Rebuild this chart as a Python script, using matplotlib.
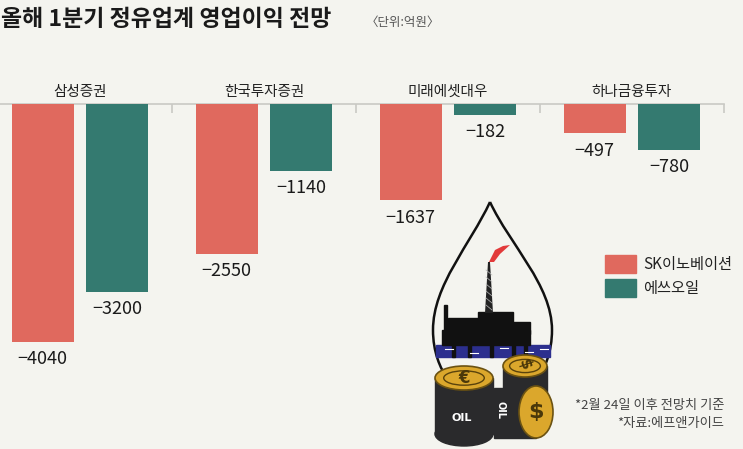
import numpy as np
import matplotlib
matplotlib.use("Agg")
import matplotlib.pyplot as plt
from matplotlib.patches import Rectangle, Ellipse, PathPatch, Polygon
from matplotlib.path import Path

plt.rcParams['font.family'] = ['Noto Sans CJK KR', 'DejaVu Sans']

# 데이터 (단위: 억원)
brokers = ["삼성증권", "한국투자증권", "미래에셋대우", "하나금융투자"]
sk_innovation = [-4040, -2550, -1637, -497]
s_oil = [-3200, -1140, -182, -780]
series_names = ["SK이노베이션", "에쓰오일"]

title = "올해 1분기 정유업계 영업이익 전망"
unit = "〈단위:억원〉"
notes = ["*2월 24일 이후 전망치 기준", "*자료:에프앤가이드"]

RED = "#e0695e"
GREEN = "#347a70"
BG = "#f4f4ef"
W, H = 743, 449
PX_PER_UNIT = 0.0588   # 세로 스케일 (픽셀 / 억원)
BASE_Y = 104           # 기준선 위치 (위에서부터 픽셀)

fig = plt.figure(figsize=(W / 100, H / 100), dpi=100, facecolor=BG)

# 막대 영역
axh = (H - BASE_Y) / H
ax = fig.add_axes([-12 / W, 0, 736 / W, axh])
ax.set_facecolor(BG)
ax.patch.set_alpha(0)
ax.set_xlim(0, 4)
ax.set_ylim(-(H - BASE_Y) / PX_PER_UNIT, 0)
ax.axis("off")

x = np.arange(len(brokers)) + 0.5
bw = 0.337
off = 0.203
b1 = ax.bar(x - off, sk_innovation, bw, color=RED, align="center", zorder=2)
b2 = ax.bar(x + off, s_oil, bw, color=GREEN, align="center", zorder=2)

ax.axhline(0, color="#c9c9c4", lw=1.2, zorder=1, clip_on=False)
ax.vlines([1, 2, 3, 4], -150, 0, color="#c9c9c4", lw=1.2, clip_on=False)

for xi, name in zip(x, brokers):
    ax.annotate(name, (xi, 0), xytext=(0, 9), textcoords="offset points",
                ha="center", va="center", fontsize=10.5, color="#222222",
                fontweight="medium", annotation_clip=False)

for bars in (b1, b2):
    for r in bars:
        v = r.get_height()
        ax.annotate("\u2212%d" % abs(v), (r.get_x() + r.get_width() / 2, v),
                    xytext=(0, -6), textcoords="offset points",
                    ha="center", va="top", fontsize=13, color="#1a1a1a",
                    fontweight="medium", annotation_clip=False)

# 제목 / 단위 / 범례 / 주석 (픽셀 좌표 오버레이)
ov = fig.add_axes([0, 0, 1, 1])
ov.set_xlim(0, W)
ov.set_ylim(H, 0)
ov.axis("off")
ov.patch.set_alpha(0)

ov.text(1, 19, title, fontsize=16.5, fontweight="bold", color="#1a1a1a",
        ha="left", va="center")
ov.text(366, 22, unit, fontsize=9, color="#555555", ha="left", va="center")

for i, (name, c) in enumerate(zip(series_names, [RED, GREEN])):
    y0 = 255 + i * 24
    ov.add_patch(Rectangle((605, y0), 31, 18, color=c))
    ov.text(643, y0 + 9, name, fontsize=11, color="#222222", ha="left",
            va="center", fontweight="medium")

ov.text(724, 405, notes[0], fontsize=9.5, color="#444444", ha="right",
        va="center")
ov.text(724, 424, notes[1], fontsize=9.5, color="#444444", ha="right",
        va="center")

# 기름방울 일러스트 (장식)
drop = Path([(490, 202), (470, 245), (433, 285), (433, 330),
             (433, 352), (440, 368), (448, 380)],
            [Path.MOVETO, Path.CURVE4, Path.CURVE4, Path.CURVE4,
             Path.CURVE4, Path.CURVE4, Path.CURVE4])
drop_r = Path([(490, 202), (510, 245), (552, 285), (552, 330),
               (552, 352), (545, 368), (537, 380)],
              [Path.MOVETO, Path.CURVE4, Path.CURVE4, Path.CURVE4,
               Path.CURVE4, Path.CURVE4, Path.CURVE4])
for p in (drop, drop_r):
    ov.add_patch(PathPatch(p, fill=False, ec="#111111", lw=1.8))

# 바다
ov.add_patch(Rectangle((436, 345), 114, 12, color="#2c2f8e"))
for xs, ys in [(445, 349), (470, 353), (500, 348), (525, 352), (540, 349)]:
    ov.plot([xs, xs + 8], [ys, ys], color="white", lw=0.8)

# 플랫폼 실루엣
ov.add_patch(Rectangle((442, 330), 88, 15, color="#111111"))
ov.add_patch(Rectangle((448, 318), 40, 14, color="#111111"))
ov.add_patch(Rectangle((478, 312), 35, 20, color="#111111"))
ov.add_patch(Rectangle((505, 322), 25, 12, color="#111111"))
ov.add_patch(Rectangle((444, 305), 3, 25, color="#111111"))
for lx in (452, 468, 490, 512, 524):
    ov.add_patch(Rectangle((lx, 345), 2.5, 12, color="#111111"))
ov.add_patch(Polygon([(485, 313), (493, 313), (490, 262), (488, 262)],
                     closed=True, fc="#222222"))
for yy in range(270, 312, 7):
    ov.plot([486, 492], [yy, yy + 5], color="#bbbbbb", lw=0.5)
ov.add_patch(Polygon([(489, 262), (495, 250), (503, 246), (510, 245),
                      (500, 254), (494, 262)], closed=True, fc="#e23a3a"))

# 드럼통
def barrel(cx, top, w, h, eh):
    ov.add_patch(Rectangle((cx - w / 2, top), w, h, color="#2a2a2c"))
    ov.add_patch(Ellipse((cx, top + h), w, eh, color="#2a2a2c"))
    ov.add_patch(Ellipse((cx, top), w, eh, fc="#dba72c", ec="#6b5212", lw=1.2))
    ov.add_patch(Ellipse((cx, top), w * 0.7, eh * 0.6, fill=False,
                         ec="#5a430c", lw=1.0))

barrel(525, 366, 44, 42, 22)
barrel(464, 378, 58, 56, 24)
ov.text(462, 418, "OIL", color="white", fontsize=8, fontweight="bold",
        ha="center", va="center", family="DejaVu Sans")
ov.add_patch(Rectangle((494, 388), 42, 50, color="#2a2a2c"))
ov.add_patch(Ellipse((536, 412), 34, 52, fc="#dba72c", ec="#6b5212", lw=1.2))
ov.text(536, 412, "$", color="#4a380a", fontsize=16, fontweight="bold",
        ha="center", va="center", family="DejaVu Sans")
ov.text(525, 364, "$", color="#4a380a", fontsize=11, fontweight="bold",
        ha="center", va="center", family="DejaVu Sans", rotation=-70)
ov.text(464, 378, "€", color="#4a380a", fontsize=12, fontweight="bold",
        ha="center", va="center", family="DejaVu Sans")
ov.text(500, 410, "OIL", color="white", fontsize=7, fontweight="bold",
        ha="center", va="center", family="DejaVu Sans", rotation=-90)

fig.savefig("out.png", dpi=100, facecolor=BG)
